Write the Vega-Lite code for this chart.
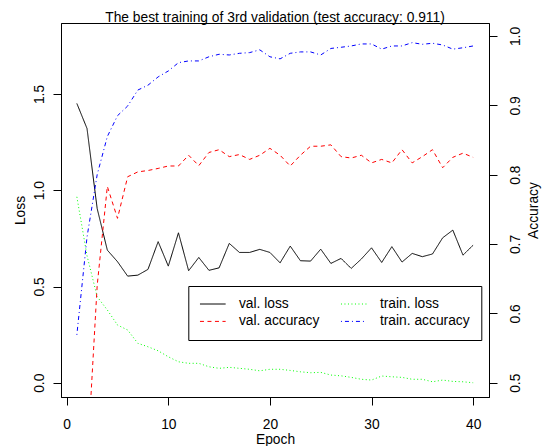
{
  "$schema": "https://vega.github.io/schema/vega-lite/v6.json",
  "width": 428,
  "height": 374,
  "autosize": {"type": "none"},
  "padding": {"left": 61, "top": 23, "right": 58, "bottom": 49},
  "title": {
    "text": "The best training of 3rd validation (test accuracy: 0.911)",
    "font": "Liberation Sans",
    "fontSize": 13.8,
    "fontWeight": "normal",
    "color": "black",
    "anchor": "middle",
    "frame": "group",
    "baseline": "bottom",
    "offset": 0,
    "dy": 16
  },
  "data": {
    "values": [
      {"epoch": 1, "val_loss": 1.451, "train_loss": 0.966, "val_acc": 0.30, "train_acc": 0.569},
      {"epoch": 2, "val_loss": 1.321, "train_loss": 0.660, "val_acc": 0.38, "train_acc": 0.710},
      {"epoch": 3, "val_loss": 0.905, "train_loss": 0.447, "val_acc": 0.640, "train_acc": 0.800},
      {"epoch": 4, "val_loss": 0.689, "train_loss": 0.378, "val_acc": 0.783, "train_acc": 0.855},
      {"epoch": 5, "val_loss": 0.629, "train_loss": 0.300, "val_acc": 0.737, "train_acc": 0.885},
      {"epoch": 6, "val_loss": 0.554, "train_loss": 0.274, "val_acc": 0.797, "train_acc": 0.899},
      {"epoch": 7, "val_loss": 0.559, "train_loss": 0.205, "val_acc": 0.804, "train_acc": 0.922},
      {"epoch": 8, "val_loss": 0.589, "train_loss": 0.187, "val_acc": 0.806, "train_acc": 0.929},
      {"epoch": 9, "val_loss": 0.733, "train_loss": 0.166, "val_acc": 0.809, "train_acc": 0.941},
      {"epoch": 10, "val_loss": 0.606, "train_loss": 0.135, "val_acc": 0.8125, "train_acc": 0.9495},
      {"epoch": 11, "val_loss": 0.779, "train_loss": 0.109, "val_acc": 0.8125, "train_acc": 0.9615},
      {"epoch": 12, "val_loss": 0.582, "train_loss": 0.101, "val_acc": 0.828, "train_acc": 0.964},
      {"epoch": 13, "val_loss": 0.651, "train_loss": 0.101, "val_acc": 0.813, "train_acc": 0.964},
      {"epoch": 14, "val_loss": 0.584, "train_loss": 0.083, "val_acc": 0.832, "train_acc": 0.970},
      {"epoch": 15, "val_loss": 0.597, "train_loss": 0.075, "val_acc": 0.836, "train_acc": 0.9736},
      {"epoch": 16, "val_loss": 0.724, "train_loss": 0.080, "val_acc": 0.826, "train_acc": 0.9726},
      {"epoch": 17, "val_loss": 0.677, "train_loss": 0.075, "val_acc": 0.829, "train_acc": 0.975},
      {"epoch": 18, "val_loss": 0.677, "train_loss": 0.070, "val_acc": 0.822, "train_acc": 0.976},
      {"epoch": 19, "val_loss": 0.693, "train_loss": 0.062, "val_acc": 0.828, "train_acc": 0.980},
      {"epoch": 20, "val_loss": 0.677, "train_loss": 0.070, "val_acc": 0.838, "train_acc": 0.970},
      {"epoch": 21, "val_loss": 0.623, "train_loss": 0.070, "val_acc": 0.828, "train_acc": 0.967},
      {"epoch": 22, "val_loss": 0.710, "train_loss": 0.064, "val_acc": 0.8125, "train_acc": 0.975},
      {"epoch": 23, "val_loss": 0.634, "train_loss": 0.057, "val_acc": 0.828, "train_acc": 0.977},
      {"epoch": 24, "val_loss": 0.632, "train_loss": 0.052, "val_acc": 0.841, "train_acc": 0.977},
      {"epoch": 25, "val_loss": 0.694, "train_loss": 0.054, "val_acc": 0.841, "train_acc": 0.9726},
      {"epoch": 26, "val_loss": 0.620, "train_loss": 0.040, "val_acc": 0.843, "train_acc": 0.982},
      {"epoch": 27, "val_loss": 0.646, "train_loss": 0.036, "val_acc": 0.826, "train_acc": 0.9837},
      {"epoch": 28, "val_loss": 0.594, "train_loss": 0.028, "val_acc": 0.824, "train_acc": 0.9856},
      {"epoch": 29, "val_loss": 0.643, "train_loss": 0.018, "val_acc": 0.828, "train_acc": 0.9885},
      {"epoch": 30, "val_loss": 0.701, "train_loss": 0.014, "val_acc": 0.817, "train_acc": 0.9885},
      {"epoch": 31, "val_loss": 0.625, "train_loss": 0.035, "val_acc": 0.822, "train_acc": 0.981},
      {"epoch": 32, "val_loss": 0.707, "train_loss": 0.031, "val_acc": 0.817, "train_acc": 0.9856},
      {"epoch": 33, "val_loss": 0.627, "train_loss": 0.028, "val_acc": 0.836, "train_acc": 0.9856},
      {"epoch": 34, "val_loss": 0.672, "train_loss": 0.018, "val_acc": 0.817, "train_acc": 0.9904},
      {"epoch": 35, "val_loss": 0.655, "train_loss": 0.018, "val_acc": 0.826, "train_acc": 0.988},
      {"epoch": 36, "val_loss": 0.669, "train_loss": 0.005, "val_acc": 0.836, "train_acc": 0.9895},
      {"epoch": 37, "val_loss": 0.753, "train_loss": 0.014, "val_acc": 0.810, "train_acc": 0.987},
      {"epoch": 38, "val_loss": 0.793, "train_loss": 0.007, "val_acc": 0.825, "train_acc": 0.981},
      {"epoch": 39, "val_loss": 0.663, "train_loss": 0.005, "val_acc": 0.831, "train_acc": 0.983},
      {"epoch": 40, "val_loss": 0.715, "train_loss": 0.000, "val_acc": 0.825, "train_acc": 0.9856}
    ]
  },
  "encoding": {
    "x": {
      "field": "epoch",
      "type": "quantitative",
      "scale": {"domain": [-0.56, 41.56], "nice": false, "zero": false},
      "axis": {
        "values": [0, 10, 20, 30, 40],
        "title": "Epoch",
        "labelAngle": 0,
        "labelPadding": 12,
        "titleY": 35.5,
        "titleBaseline": "top"
      }
    }
  },
  "layer": [
    {
      "transform": [{"fold": ["val_loss", "train_loss"], "as": ["series", "value"]}],
      "mark": {"type": "line", "clip": true, "strokeWidth": 1},
      "encoding": {
        "y": {
          "field": "value",
          "type": "quantitative",
          "scale": {"domain": [-0.074, 1.869], "nice": false, "zero": false},
          "axis": {
            "orient": "left",
            "values": [0, 0.5, 1, 1.5],
            "format": ".1f",
            "title": "Loss",
            "labelAngle": -90,
            "labelAlign": "center",
            "labelBaseline": "bottom",
            "labelPadding": 6.3,
            "titleAngle": -90,
            "titleBaseline": "bottom",
            "titleX": -34
          }
        },
        "color": {
          "field": "series",
          "type": "nominal",
          "scale": {"domain": ["val_loss", "val_acc", "train_loss", "train_acc"], "range": ["black", "red", "#00ff00", "blue"]},
          "legend": {
            "title": null,
            "orient": "none",
            "legendX": 127.3,
            "legendY": 263,
            "columns": 2,
            "labelExpr": "datum.label == 'val_loss' ? 'val. loss' : datum.label == 'train_loss' ? 'train. loss' : datum.label == 'val_acc' ? 'val. accuracy' : 'train. accuracy'"
          }
        },
        "strokeDash": {
          "field": "series",
          "type": "nominal",
          "scale": {"domain": ["val_loss", "val_acc", "train_loss", "train_acc"], "range": [[1, 0], [4, 3.5], [1, 2.5], [1, 3, 4, 3]]},
          "legend": {
            "title": null,
            "orient": "none",
            "legendX": 127.3,
            "legendY": 263,
            "columns": 2,
            "labelExpr": "datum.label == 'val_loss' ? 'val. loss' : datum.label == 'train_loss' ? 'train. loss' : datum.label == 'val_acc' ? 'val. accuracy' : 'train. accuracy'"
          }
        }
      }
    },
    {
      "transform": [{"fold": ["val_acc", "train_acc"], "as": ["series", "value"]}],
      "mark": {"type": "line", "clip": true, "strokeWidth": 1},
      "encoding": {
        "y": {
          "field": "value",
          "type": "quantitative",
          "scale": {"domain": [0.4794, 1.0187], "nice": false, "zero": false},
          "axis": {
            "orient": "right",
            "values": [0.5, 0.6, 0.7, 0.8, 0.9, 1.0],
            "format": ".1f",
            "title": "Accuracy",
            "labelAngle": -90,
            "labelAlign": "center",
            "labelBaseline": "top",
            "labelPadding": 11.9,
            "titleAngle": -90,
            "titleBaseline": "top",
            "titleX": 37.9
          }
        },
        "color": {
          "field": "series",
          "type": "nominal",
          "scale": {"domain": ["val_loss", "val_acc", "train_loss", "train_acc"], "range": ["black", "red", "#00ff00", "blue"]},
          "legend": {
            "title": null,
            "orient": "none",
            "legendX": 127.3,
            "legendY": 263,
            "columns": 2,
            "labelExpr": "datum.label == 'val_loss' ? 'val. loss' : datum.label == 'train_loss' ? 'train. loss' : datum.label == 'val_acc' ? 'val. accuracy' : 'train. accuracy'"
          }
        },
        "strokeDash": {
          "field": "series",
          "type": "nominal",
          "scale": {"domain": ["val_loss", "val_acc", "train_loss", "train_acc"], "range": [[1, 0], [4, 3.5], [1, 2.5], [1, 3, 4, 3]]},
          "legend": {
            "title": null,
            "orient": "none",
            "legendX": 127.3,
            "legendY": 263,
            "columns": 2,
            "labelExpr": "datum.label == 'val_loss' ? 'val. loss' : datum.label == 'train_loss' ? 'train. loss' : datum.label == 'val_acc' ? 'val. accuracy' : 'train. accuracy'"
          }
        }
      }
    }
  ],
  "resolve": {"scale": {"y": "independent"}},
  "config": {
    "view": {"stroke": "black", "strokeWidth": 1},
    "font": "Liberation Sans",
    "axis": {
      "grid": false,
      "domainColor": "black",
      "tickColor": "black",
      "labelColor": "black",
      "titleColor": "black",
      "labelFont": "Liberation Sans",
      "titleFont": "Liberation Sans",
      "labelFontSize": 13.8,
      "titleFontSize": 13.8,
      "titleFontWeight": "normal",
      "tickSize": 8,
      "domainWidth": 1,
      "tickWidth": 1,
      "labelFlush": false,
      "labelOverlap": false
    },
    "legend": {
      "symbolType": "stroke",
      "symbolSize": 660,
      "symbolStrokeWidth": 1,
      "labelFont": "Liberation Sans",
      "labelFontSize": 13.8,
      "labelColor": "black",
      "padding": 11,
      "rowPadding": 3.4,
      "columnPadding": 20,
      "labelOffset": 12.6,
      "strokeColor": "black",
      "fillColor": "white",
      "clipHeight": 14,
      "cornerRadius": 0
    }
  }
}
